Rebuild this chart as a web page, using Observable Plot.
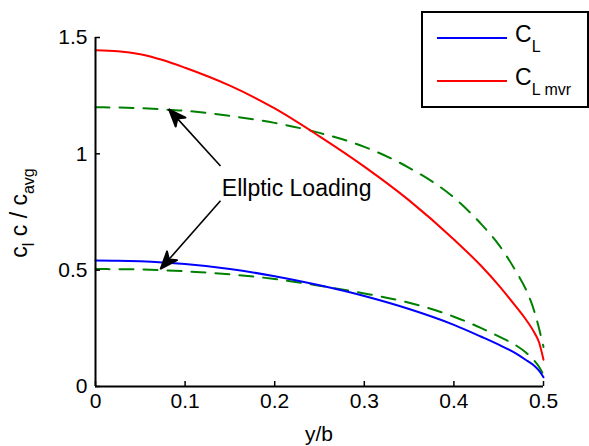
<!DOCTYPE html>
<html><head><meta charset="utf-8">
<script src="https://cdn.jsdelivr.net/npm/d3@7"></script>
<script src="https://cdn.jsdelivr.net/npm/@observablehq/plot@0.6"></script>
<style>body{margin:0;background:#fff}#chart{width:589px;height:446px}</style>
</head><body><div id="chart"></div>
<script>
// ---- data ----
const span    = [0, 0.025, 0.05, 0.075, 0.1, 0.15, 0.2, 0.25, 0.3, 0.35, 0.4, 0.43, 0.45, 0.47, 0.48, 0.49, 0.495, 0.5];
const cl      = [0.542, 0.541, 0.538, 0.533, 0.526, 0.505, 0.474, 0.435, 0.389, 0.333, 0.265, 0.215, 0.180, 0.140, 0.115, 0.088, 0.068, 0.040];
const clMvr   = [1.445, 1.441, 1.428, 1.403, 1.370, 1.293, 1.195, 1.075, 0.945, 0.800, 0.632, 0.520, 0.435, 0.340, 0.290, 0.230, 0.190, 0.115];
const ellHigh = [1.200, 1.199, 1.196, 1.191, 1.185, 1.163, 1.133, 1.090, 1.030, 0.940, 0.812, 0.700, 0.610, 0.490, 0.420, 0.320, 0.250, 0.170];
const ellLow  = [0.505, 0.504, 0.503, 0.500, 0.495, 0.482, 0.462, 0.433, 0.400, 0.360, 0.300, 0.252, 0.215, 0.175, 0.147, 0.110, 0.085, 0.050];
const xTicks = [0, 0.1, 0.2, 0.3, 0.4, 0.5];
const xTickLabels = ["0", "0.1", "0.2", "0.3", "0.4", "0.5"];
const yTicks = [0, 0.5, 1, 1.5];
const yTickLabels = ["0", "0.5", "1", "1.5"];
const annotationText = ["Ellptic Loading"];
const annotationX = [0.141];
const annotationY = [0.82];
const arrowFromX = [0.1395, 0.1395];
const arrowFromY = [0.948, 0.798];
const arrowToX = [0.0818, 0.0725];
const arrowToY = [1.192, 0.505];

const rows = (ys) => span.map((x, i) => ({x, y: ys[i]}));
const arrows = arrowFromX.map((_, i) => ({x1: arrowFromX[i], y1: arrowFromY[i], x2: arrowToX[i], y2: arrowToY[i]}));
const annot = annotationText.map((t, i) => ({t, x: annotationX[i], y: annotationY[i]}));

const FONT = "'Liberation Sans', Arial, Helvetica, sans-serif";

function headMarker() {
  const m = d3.create("svg:marker")
    .attr("viewBox", "-19 -8 20 16").attr("markerWidth", 20).attr("markerHeight", 16)
    .attr("markerUnits", "userSpaceOnUse").attr("orient", "auto").attr("refX", 0).attr("refY", 0);
  m.append("path").attr("d", "M0,0L-18,-7L-13,0L-18,7Z").attr("fill", "black");
  return m.node();
}

function build(marker) {
  return Plot.plot({
    width: 589, height: 446,
    marginLeft: 95, marginRight: 46, marginTop: 37, marginBottom: 60,
    style: {fontFamily: FONT, fontSize: "21px", color: "black", background: "white", overflow: "visible"},
    x: {domain: [0, 0.5]},
    y: {domain: [0, 1.5]},
    marks: [
      Plot.line(rows(ellHigh), {x: "x", y: "y", stroke: "#008000", strokeWidth: 2, strokeDasharray: "14,10", curve: "monotone-x"}),
      Plot.line(rows(ellLow), {x: "x", y: "y", stroke: "#008000", strokeWidth: 2, strokeDasharray: "14,10", curve: "monotone-x"}),
      Plot.line(rows(cl), {x: "x", y: "y", stroke: "#0000ff", strokeWidth: 2, curve: "monotone-x"}),
      Plot.line(rows(clMvr), {x: "x", y: "y", stroke: "#ff0000", strokeWidth: 2, curve: "monotone-x"}),
      Plot.ruleX([0], {stroke: "black", strokeWidth: 2}),
      Plot.ruleY([0], {stroke: "black", strokeWidth: 2}),
      Plot.axisX(xTicks, {tickSize: -5, tickPadding: 12, strokeWidth: 1.5, fontSize: 21, label: null,
        tickFormat: d => xTickLabels[xTicks.indexOf(d)]}),
      Plot.axisY(yTicks, {tickSize: -5, tickPadding: 13, strokeWidth: 1.5, fontSize: 21, label: null,
        tickFormat: d => yTickLabels[yTicks.indexOf(d)]}),
      Plot.link(arrows, {x1: "x1", y1: "y1", x2: "x2", y2: "y2", stroke: "black", strokeWidth: 1.6, markerEnd: marker}),
      Plot.text(annot, {x: "x", y: "y", text: "t", textAnchor: "start", lineAnchor: "bottom", fontSize: 23, fill: "black"})
    ]
  });
}

let plot;
try { plot = build(headMarker); } catch (e) { plot = build("arrow"); }
document.getElementById("chart").appendChild(plot);

const svg = d3.select(plot);
// y-axis label with subscripts
const yl = svg.append("text").attr("transform", "translate(27,213) rotate(-90)")
  .attr("text-anchor", "middle").attr("font-family", FONT).attr("font-size", 23).attr("fill", "black");
yl.append("tspan").text("c");
yl.append("tspan").attr("font-size", 16).attr("dy", 7).text("l");
yl.append("tspan").attr("dy", -7).text(" c / c");
yl.append("tspan").attr("font-size", 16).attr("dy", 7).text("avg");
// x-axis label
svg.append("text").attr("x", 319).attr("y", 441).attr("text-anchor", "middle")
  .attr("font-family", FONT).attr("font-size", 21).attr("fill", "black").text("y/b");

// legend
const lg = svg.append("g").attr("font-family", FONT).attr("fill", "black").attr("text-anchor", "start");
lg.append("rect").attr("x", 422).attr("y", 12).attr("width", 166).attr("height", 95)
  .attr("fill", "white").attr("stroke", "black").attr("stroke-width", 2);
const legendItems = [{name: "C", sub: "L", color: "#0000ff", y: 38}, {name: "C", sub: "L mvr", color: "#ff0000", y: 81}];
legendItems.forEach(it => {
  lg.append("line").attr("x1", 437).attr("x2", 507).attr("y1", it.y).attr("y2", it.y)
    .attr("stroke", it.color).attr("stroke-width", 2);
  const t = lg.append("text").attr("x", 515).attr("y", it.y + 4).attr("font-size", 23).attr("text-anchor", "start");
  t.append("tspan").text(it.name);
  t.append("tspan").attr("font-size", 16).attr("dy", 10).text(it.sub);
});
</script>
</body></html>
